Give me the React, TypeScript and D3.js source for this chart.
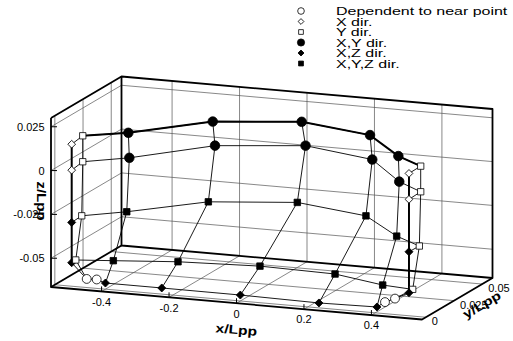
import React from "react";
import * as d3 from "d3";

// hull lattice, columns A..I from stern to bow
const stationX = [-0.5, -0.5, -0.4, -0.233, 0, 0.233, 0.405, 0.5, 0.5];

// rows from the sheer line down, y = half breadth, z = height
const sheerY = [0, 0.0098, 0.0203, 0.0452, 0.0544, 0.0453, 0.019, 0.0104, 0];
const sheerZ = [0.0146, 0.0157, 0.0151, 0.0149, 0.0152, 0.015, 0.0159, 0.015, 0.0148];
const upperY = [0, 0.0098, 0.0212, 0.0472, 0.0578, 0.0473, 0.0198, 0.0104, 0];
const upperZ = [-0.0002, 0.0009, 0.0005, 0.0004, 0.0003, 0.0003, 0.001, 0.0004, 0];
const middleY = [0, 0.0089, 0.0189, 0.0413, 0.0505, 0.0417, 0.0175, 0.0092, 0];
const middleZ = [-0.03, -0.0296, -0.0294, -0.0294, -0.0293, -0.0297, -0.0292, -0.0301, -0.0299];
const lowerY = [0, 0.0036, 0.007, 0.0144, 0.0174, 0.0143, 0.0051, 0.0033, 0];
const lowerZ = [-0.053, -0.0528, -0.0528, -0.0534, -0.0531, -0.0525, -0.0524, -0.0526, -0.0533];

// keel line (centre plane)
const keelX = [-0.5, -0.4555, -0.4259, -0.4, -0.233, 0, 0.233, 0.405, 0.4289, 0.4586, 0.5];
const keelZ = [-0.053, -0.0615, -0.0613, -0.0629, -0.0629, -0.063, -0.0636, -0.063, -0.0598, -0.0573, -0.0533];

const topMarks = ["xdir", "ydir", "xy", "xy", "xy", "xy", "xy", "ydir", "xdir"];
const bottomMarks = ["xz", "ydir", "xyz", "xyz", "xyz", "xyz", "xyz", "ydir", "xz"];
const keelMarks = ["", "dep", "dep", "xz", "xz", "xz", "xz", "xz", "dep", "dep", ""];

const legendKeys = ["dep", "xdir", "ydir", "xy", "xz", "xyz"];
const legendLabels = [
  "Dependent to near point",
  "X dir.",
  "Y dir.",
  "X,Y dir.",
  "X,Z dir.",
  "X,Y,Z dir.",
];

const xTicks = [-0.4, -0.2, 0, 0.2, 0.4];
const yTicks = [0, 0.025, 0.05];
const zTicks = [-0.05, -0.025, 0, 0.025];
const xTickLabels = ["-0.4", "-0.2", "0", "0.2", "0.4"];
const yTickLabels = ["0", "0.025", "0.05"];
const zTickLabels = ["-0.05", "-0.025", "0", "0.025"];

const X_DOMAIN = [-0.55, 0.55];
const Y_DOMAIN = [-0.0034, 0.0591];
const Z_DOMAIN = [-0.0664, 0.03];

const FONT = "'Liberation Sans', Arial, Helvetica, sans-serif";

// axis box projection
const origin = [51, 287];
const ex = [371, 32.5];
const ey = [70.5, -41.5];
const ez = [0, -169];
const fx = d3.scaleLinear().domain(X_DOMAIN).range([0, 1]);
const fy = d3.scaleLinear().domain(Y_DOMAIN).range([0, 1]);
const fz = d3.scaleLinear().domain(Z_DOMAIN).range([0, 1]);

type P = [number, number];
const project = (x: number, y: number, z: number): P => {
  const u = fx(x), v = fy(y), w = fz(z);
  return [
    origin[0] + u * ex[0] + v * ey[0] + w * ez[0],
    origin[1] + u * ex[1] + v * ey[1] + w * ez[1],
  ];
};

const line = d3.line<P>().x((d) => d[0]).y((d) => d[1]);

const markStyle: Record<string, { shape: string; area: number; fill: string }> = {
  dep: { shape: "circle", area: 62, fill: "white" },
  xdir: { shape: "diamond", area: 30, fill: "white" },
  ydir: { shape: "square", area: 40, fill: "white" },
  xy: { shape: "circle", area: 72, fill: "black" },
  xz: { shape: "diamond", area: 32, fill: "black" },
  xyz: { shape: "square", area: 42, fill: "black" },
};

const Marker = ({ kind, p, scale = 1 }: { kind: string; p: P; scale?: number }) => {
  const s = markStyle[kind];
  const type = s.shape === "circle" ? d3.symbolCircle : d3.symbolSquare;
  const d = d3.symbol().type(type).size(s.area * scale * scale)()!;
  const rot = s.shape === "diamond" ? " rotate(45)" : "";
  return (
    <path
      d={d}
      transform={`translate(${p[0]},${p[1]})${rot}`}
      fill={s.fill}
      stroke="black"
      strokeWidth={0.8}
    />
  );
};

export default function App() {
  const [x0, x1] = X_DOMAIN;
  const [y0, y1] = Y_DOMAIN;
  const [z0, z1] = Z_DOMAIN;

  const rows = [
    [sheerY, sheerZ],
    [upperY, upperZ],
    [middleY, middleZ],
    [lowerY, lowerZ],
  ].map(([ys, zs]) => ys.map((y, j) => project(stationX[j], y, zs[j])));
  const keel = keelX.map((x, i) => project(x, 0, keelZ[i]));

  const column = (j: number) => rows.map((r) => r[j]);

  // grid on the three back planes
  const grid: P[][] = [];
  xTicks.forEach((t) => {
    grid.push([project(t, y1, z0), project(t, y1, z1)]);
    grid.push([project(t, y0, z0), project(t, y1, z0)]);
  });
  zTicks.forEach((t) => {
    grid.push([project(x0, y1, t), project(x1, y1, t)]);
    grid.push([project(x0, y0, t), project(x0, y1, t)]);
  });
  yTicks.forEach((t) => {
    grid.push([project(x0, t, z0), project(x0, t, z1)]);
    grid.push([project(x0, t, z0), project(x1, t, z0)]);
  });

  const edges: P[][] = [
    [project(x0, y0, z1), project(x0, y0, z0), project(x1, y0, z0), project(x1, y1, z0), project(x1, y1, z1), project(x0, y1, z1), project(x0, y0, z1)],
    [project(x0, y1, z1), project(x0, y1, z0), project(x1, y1, z0)],
    [project(x0, y0, z0), project(x0, y1, z0)],
  ];

  const thin: P[][] = [
    ...rows,
    keel,
    ...[2, 3, 4, 5, 6].map((j) => [...column(j), keel[j + 1]]),
    [...column(1), keel[1]],
    [...column(7), keel[9]],
  ];
  const thick: P[][] = [rows[0].slice(1, 8), column(0), column(8)];

  const yAng = (Math.atan2(ey[1], ey[0]) * 180) / Math.PI;
  const xAng = (Math.atan2(ex[1], ex[0]) * 180) / Math.PI;

  return (
    <svg
      width={513}
      height={341}
      style={{ position: "absolute", left: 0, top: 0, background: "white" }}
      fontFamily={FONT}
    >
      <g fill="none" stroke="#555" strokeWidth={0.7}>
        {grid.map((g, i) => (
          <path key={i} d={line(g)!} />
        ))}
      </g>
      <g fill="none" stroke="black" strokeWidth={1.8} strokeLinejoin="round">
        {edges.map((g, i) => (
          <path key={i} d={line(g)!} />
        ))}
      </g>

      {/* ticks */}
      <g stroke="black" strokeWidth={1}>
        {xTicks.map((t, i) => {
          const p = project(t, y0, z0);
          return <line key={"xt" + i} x1={p[0]} y1={p[1]} x2={p[0]} y2={p[1] - 5} />;
        })}
        {zTicks.map((t, i) => {
          const p = project(x0, y0, t);
          return <line key={"zt" + i} x1={p[0]} y1={p[1]} x2={p[0] + 6} y2={p[1]} />;
        })}
      </g>

      <g fill="none" stroke="black" strokeWidth={0.9}>
        {thin.map((g, i) => (
          <path key={i} d={line(g)!} />
        ))}
      </g>
      <g fill="none" stroke="black" strokeWidth={2}>
        {thick.map((g, i) => (
          <path key={i} d={line(g)!} />
        ))}
      </g>

      {rows.map((r, ri) =>
        r.map((p, j) => (
          <Marker key={ri + "-" + j} kind={ri < 2 ? topMarks[j] : bottomMarks[j]} p={p} />
        ))
      )}
      {keel.map((p, i) => (keelMarks[i] ? <Marker key={"k" + i} kind={keelMarks[i]} p={p} /> : null))}

      {/* tick labels */}
      <g fontSize={11} fill="black">
        {xTicks.map((t, i) => {
          const p = project(t, y0, z0);
          return (
            <text key={"xl" + i} x={p[0]} y={p[1] + 10.3} textAnchor="middle" dominantBaseline="central">
              {xTickLabels[i]}
            </text>
          );
        })}
        {zTicks.map((t, i) => {
          const p = project(x0, y0, t);
          return (
            <text key={"zl" + i} x={p[0] - 6.5} y={p[1]} textAnchor="end" dominantBaseline="central">
              {zTickLabels[i]}
            </text>
          );
        })}
        {yTicks.map((t, i) => {
          const p = project(x1, t, z0);
          return (
            <text key={"yl" + i} x={p[0] + 6} y={p[1] + 4} dominantBaseline="central">
              {yTickLabels[i]}
            </text>
          );
        })}
      </g>

      {/* axis titles */}
      <g fontSize={12.5} fontWeight="bold" textAnchor="middle">
        <text transform={`translate(236,334) rotate(${xAng}) scale(1.25,1)`}>x/Lpp</text>
        <text transform={`translate(37,201) rotate(90) scale(1.2,1)`}>z/Lpp</text>
        <text transform={`translate(484,308.5) rotate(${yAng}) scale(1.25,1)`}>y/Lpp</text>
      </g>

      {/* legend */}
      {legendKeys.map((k, i) => {
        const base = 15 + i * 10.5;
        return (
          <g key={k}>
            <Marker kind={k} p={[301, base - 4]} scale={0.75} />
            <text transform={`translate(336,${base}) scale(1.39,1)`} fontSize={11.5}>
              {legendLabels[i]}
            </text>
          </g>
        );
      })}
    </svg>
  );
}
